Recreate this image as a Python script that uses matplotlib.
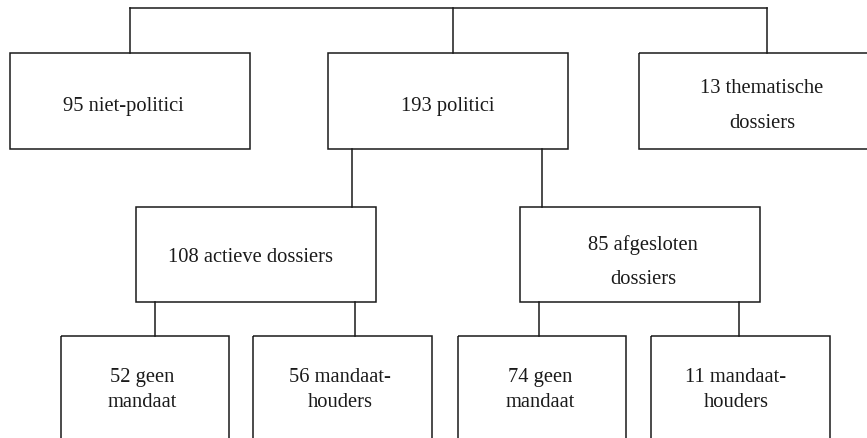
import matplotlib
matplotlib.use("Agg")
import matplotlib.pyplot as plt
from matplotlib.patches import Rectangle

# ---- data ----
counts = [95, 193, 13, 108, 85, 52, 56, 74, 11]
labels = [
    ["95 niet-politici"],
    ["193 politici"],
    ["13 thematische", "dossiers"],
    ["108 actieve dossiers"],
    ["85 afgesloten", "dossiers"],
    ["52 geen", "mandaat"],
    ["56 mandaat-", "houders"],
    ["74 geen", "mandaat"],
    ["11 mandaat-", "houders"],
]
parents = [None, None, None, 1, 1, 3, 3, 4, 4]

# ---- layout (pixel coords, y downward) ----
boxes = [
    (10, 54, 250, 150),
    (328, 54, 568, 150),
    (639, 54, 872, 150),
    (136, 208, 376, 303),
    (520, 208, 760, 303),
    (61, 337, 229, 450),
    (253, 337, 432, 450),
    (458, 337, 626, 450),
    (651, 337, 830, 450),
]
text_x = [123, 448, 762, 251, 643, 142, 340, 540, 736]
baselines = [[111], [111], [93, 128], [262], [250, 284],
             [382, 407], [382, 407], [382, 407], [382, 407]]
# connectors: (x, y_top, y_bottom)
connectors = [(130, 9, 54), (453, 9, 54), (767, 9, 54),
              (352, 150, 208), (542, 150, 208),
              (155, 303, 337), (355, 303, 337),
              (539, 303, 337), (739, 303, 337)]

W, H = 867, 439
fig = plt.figure(figsize=(W / 100, H / 100), dpi=100)
ax = fig.add_axes([0, 0, 1, 1])
ax.set_xlim(0, W)
ax.set_ylim(H, 0)
ax.axis("off")

lw = 1.1
col = "#1a1a1a"
ax.plot([130, 767], [9, 9], color=col, lw=lw, solid_capstyle="projecting")
for x, y0, y1 in connectors:
    ax.plot([x, x], [y0, y1], color=col, lw=lw)

for (x0, y0, x1, y1), lab, tx, bl in zip(boxes, labels, text_x, baselines):
    ax.add_patch(Rectangle((x0, y0), x1 - x0, y1 - y0, fill=False,
                           edgecolor=col, lw=lw))
    for line, y in zip(lab, bl):
        ax.text(tx, y, line, ha="center", va="baseline", fontsize=14.8,
                family="Liberation Serif", color="#1a1a1a")

fig.savefig("out.png", dpi=100)
